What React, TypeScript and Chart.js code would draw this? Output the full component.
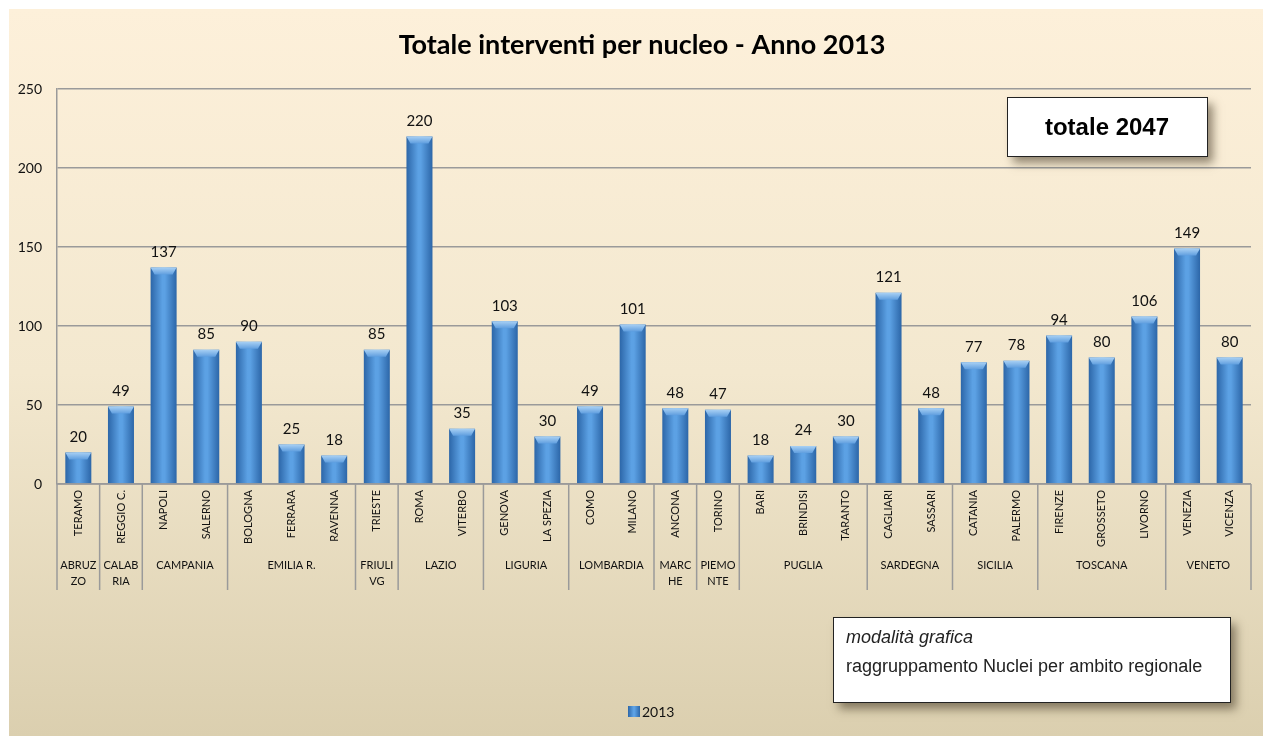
import React, { useEffect, useRef } from "react";
import { Chart, registerables } from "chart.js";

Chart.register(...registerables);

const categories = [
  "TERAMO", "REGGIO C.", "NAPOLI", "SALERNO", "BOLOGNA", "FERRARA", "RAVENNA",
  "TRIESTE", "ROMA", "VITERBO", "GENOVA", "LA SPEZIA", "COMO", "MILANO",
  "ANCONA", "TORINO", "BARI", "BRINDISI", "TARANTO", "CAGLIARI", "SASSARI",
  "CATANIA", "PALERMO", "FIRENZE", "GROSSETO", "LIVORNO", "VENEZIA", "VICENZA",
];
const values2013 = [
  20, 49, 137, 85, 90, 25, 18, 85, 220, 35, 103, 30, 49, 101, 48, 47, 18, 24,
  30, 121, 48, 77, 78, 94, 80, 106, 149, 80,
];
const groupLabels: string[][] = [
  ["ABRUZ", "ZO"], ["CALAB", "RIA"], ["CAMPANIA"], ["EMILIA R."], ["FRIULI", "VG"],
  ["LAZIO"], ["LIGURIA"], ["LOMBARDIA"], ["MARC", "HE"], ["PIEMO", "NTE"],
  ["PUGLIA"], ["SARDEGNA"], ["SICILIA"], ["TOSCANA"], ["VENETO"],
];
const groupSizes = [1, 1, 2, 3, 1, 2, 2, 2, 1, 1, 3, 2, 2, 3, 2];
const seriesName = "2013";
const titleText = "Totale interventi per nucleo - Anno 2013";
const totalText = "totale 2047";
const noteTitle = "modalità grafica";
const noteText = "raggruppamento Nuclei per ambito regionale";

const FONT = "Lato, 'Open Sans', sans-serif";
const BOXFONT = "'Liberation Sans', Arial, sans-serif";

function barGradient(ctx: CanvasRenderingContext2D, c: number, hw: number) {
  if (!Number.isFinite(c) || !Number.isFinite(hw)) return "#3f7fc5";
  const g = ctx.createLinearGradient(c - hw, 0, c + hw, 0);
  g.addColorStop(0, "#2c66a8");
  g.addColorStop(0.45, "#5ca1e4");
  g.addColorStop(0.55, "#5ca1e4");
  g.addColorStop(1, "#2c66a8");
  return g;
}

function shadowBox(ctx: CanvasRenderingContext2D, x: number, y: number, w: number, h: number) {
  ctx.save();
  ctx.shadowColor = "rgba(60,50,30,0.55)";
  ctx.shadowBlur = 9;
  ctx.shadowOffsetX = 6;
  ctx.shadowOffsetY = 7;
  ctx.fillStyle = "#ffffff";
  ctx.fillRect(x, y, w, h);
  ctx.restore();
  ctx.save();
  ctx.strokeStyle = "#222";
  ctx.lineWidth = 1;
  ctx.strokeRect(x + 0.5, y + 0.5, w, h);
  ctx.restore();
}

const decorPlugin = {
  id: "decor",
  beforeDraw(chart: any) {
    const ctx = chart.ctx as CanvasRenderingContext2D;
    ctx.save();
    const g = ctx.createLinearGradient(0, 9, 0, 736);
    g.addColorStop(0, "#fdf0da");
    g.addColorStop(0.5, "#f3e8cf");
    g.addColorStop(1, "#dbcfaf");
    ctx.fillStyle = g;
    ctx.fillRect(9, 9, 1254, 727);
    ctx.fillStyle = "#000";
    ctx.font = `bold 27px ${FONT}`;
    ctx.textAlign = "center";
    ctx.textBaseline = "middle";
    ctx.fillText(titleText, 642, 45);
    ctx.restore();
  },
  afterDatasetsDraw(chart: any) {
    const ctx = chart.ctx as CanvasRenderingContext2D;
    const meta = chart.getDatasetMeta(0);
    ctx.save();
    meta.data.forEach((bar: any, i: number) => {
      const hw = bar.width / 2;
      const top = bar.y;
      if (!Number.isFinite(top) || !Number.isFinite(hw)) return;
      const cg = ctx.createLinearGradient(0, top, 0, top + 8);
      cg.addColorStop(0, "#a8d0f4");
      cg.addColorStop(1, "#5597dc");
      ctx.fillStyle = cg;
      ctx.beginPath();
      ctx.moveTo(bar.x - hw, top);
      ctx.lineTo(bar.x + hw, top);
      ctx.lineTo(bar.x + hw - 4, top + 7);
      ctx.lineTo(bar.x - hw + 4, top + 7);
      ctx.closePath();
      ctx.fill();
      ctx.fillStyle = "#111";
      ctx.font = `15px ${FONT}`;
      ctx.textAlign = "center";
      ctx.textBaseline = "bottom";
      ctx.fillText(String(values2013[i]), bar.x, top - 8);
    });
    ctx.restore();
  },
  afterDraw(chart: any) {
    const ctx = chart.ctx as CanvasRenderingContext2D;
    const xs = chart.scales.x;
    const area = chart.chartArea;
    const n = categories.length;
    const step = (area.right - area.left) / n;
    ctx.save();
    ctx.fillStyle = "#111";
    ctx.font = `11px ${FONT}`;
    ctx.textAlign = "right";
    ctx.textBaseline = "middle";
    categories.forEach((c, i) => {
      const x = xs.getPixelForValue(i);
      ctx.save();
      ctx.translate(x, area.bottom + 6);
      ctx.rotate(-Math.PI / 2);
      ctx.fillText(c, 0, 0);
      ctx.restore();
    });
    ctx.strokeStyle = "#9a9a9a";
    ctx.lineWidth = 1.5;
    let idx = 0;
    const drawSep = (x: number) => {
      ctx.beginPath();
      ctx.moveTo(x, area.bottom);
      ctx.lineTo(x, 590);
      ctx.stroke();
    };
    drawSep(area.left);
    ctx.textAlign = "center";
    groupSizes.forEach((sz, gi) => {
      const x0 = area.left + idx * step;
      const x1 = area.left + (idx + sz) * step;
      drawSep(x1);
      const lines = groupLabels[gi];
      lines.forEach((ln, li) => {
        ctx.fillText(ln, (x0 + x1) / 2, 565 + li * 16);
      });
      idx += sz;
    });
    ctx.beginPath();
    ctx.moveTo(area.left, area.bottom);
    ctx.lineTo(area.right, area.bottom);
    ctx.stroke();
    ctx.restore();

    shadowBox(ctx, 1007, 97, 200, 59);
    ctx.save();
    ctx.fillStyle = "#000";
    ctx.font = `bold 24px ${BOXFONT}`;
    ctx.textAlign = "center";
    ctx.textBaseline = "middle";
    ctx.fillText(totalText, 1107, 128);
    ctx.restore();

    shadowBox(ctx, 833, 617, 397, 85);
    ctx.save();
    ctx.fillStyle = "#222";
    ctx.textAlign = "left";
    ctx.textBaseline = "middle";
    ctx.font = `italic 18px ${BOXFONT}`;
    ctx.fillText(noteTitle, 846, 638);
    ctx.font = `18px ${BOXFONT}`;
    ctx.fillText(noteText, 846, 667);
    ctx.restore();

    ctx.save();
    ctx.fillStyle = barGradient(ctx, 634, 6);
    ctx.fillRect(628, 706, 12, 11);
    ctx.fillStyle = "#111";
    ctx.font = `14px ${FONT}`;
    ctx.textAlign = "left";
    ctx.textBaseline = "middle";
    ctx.fillText(seriesName, 642, 712);
    ctx.restore();
  },
};

export default function App() {
  const ref = useRef<HTMLCanvasElement>(null);
  useEffect(() => {
    if (!ref.current) return;
    const chart = new Chart(ref.current, {
      type: "bar",
      data: {
        labels: categories,
        datasets: [
          {
            label: seriesName,
            data: values2013,
            backgroundColor: (c: any) => {
              const xs = c.chart.scales?.x;
              if (!xs || c.type !== "data") return "#3f7fc5";
              const center = xs.getPixelForValue(c.dataIndex);
              return barGradient(c.chart.ctx, center, 13);
            },
            borderWidth: 0,
            barPercentage: 0.61,
            categoryPercentage: 1,
          },
        ],
      },
      options: {
        responsive: false,
        animation: false,
        layout: { padding: { top: 89, left: 9, right: 12, bottom: 0 } },
        plugins: {
          legend: { display: false },
          title: { display: false },
          tooltip: { enabled: false },
        },
        scales: {
          x: {
            ticks: { display: false },
            grid: { display: false },
            border: { display: false },
            afterFit: (s: any) => {
              s.height = 252;
            },
          },
          y: {
            min: 0,
            max: 250,
            ticks: {
              stepSize: 50,
              padding: 15,
              color: "#111",
              font: { family: FONT, size: 14 },
            },
            grid: { color: "#9a9a9a", lineWidth: 1.5, drawTicks: false },
            border: { display: true, color: "#9a9a9a", width: 1.5 },
            afterFit: (s: any) => {
              s.width = 48;
            },
          },
        },
      },
      plugins: [decorPlugin],
    } as any);
    return () => chart.destroy();
  }, []);
  return (
    <div style={{ position: "fixed", left: 0, top: 0, width: 1263, height: 736, background: "#fff" }}>
      <canvas ref={ref} width={1263} height={736} style={{ display: "block" }} />
    </div>
  );
}
